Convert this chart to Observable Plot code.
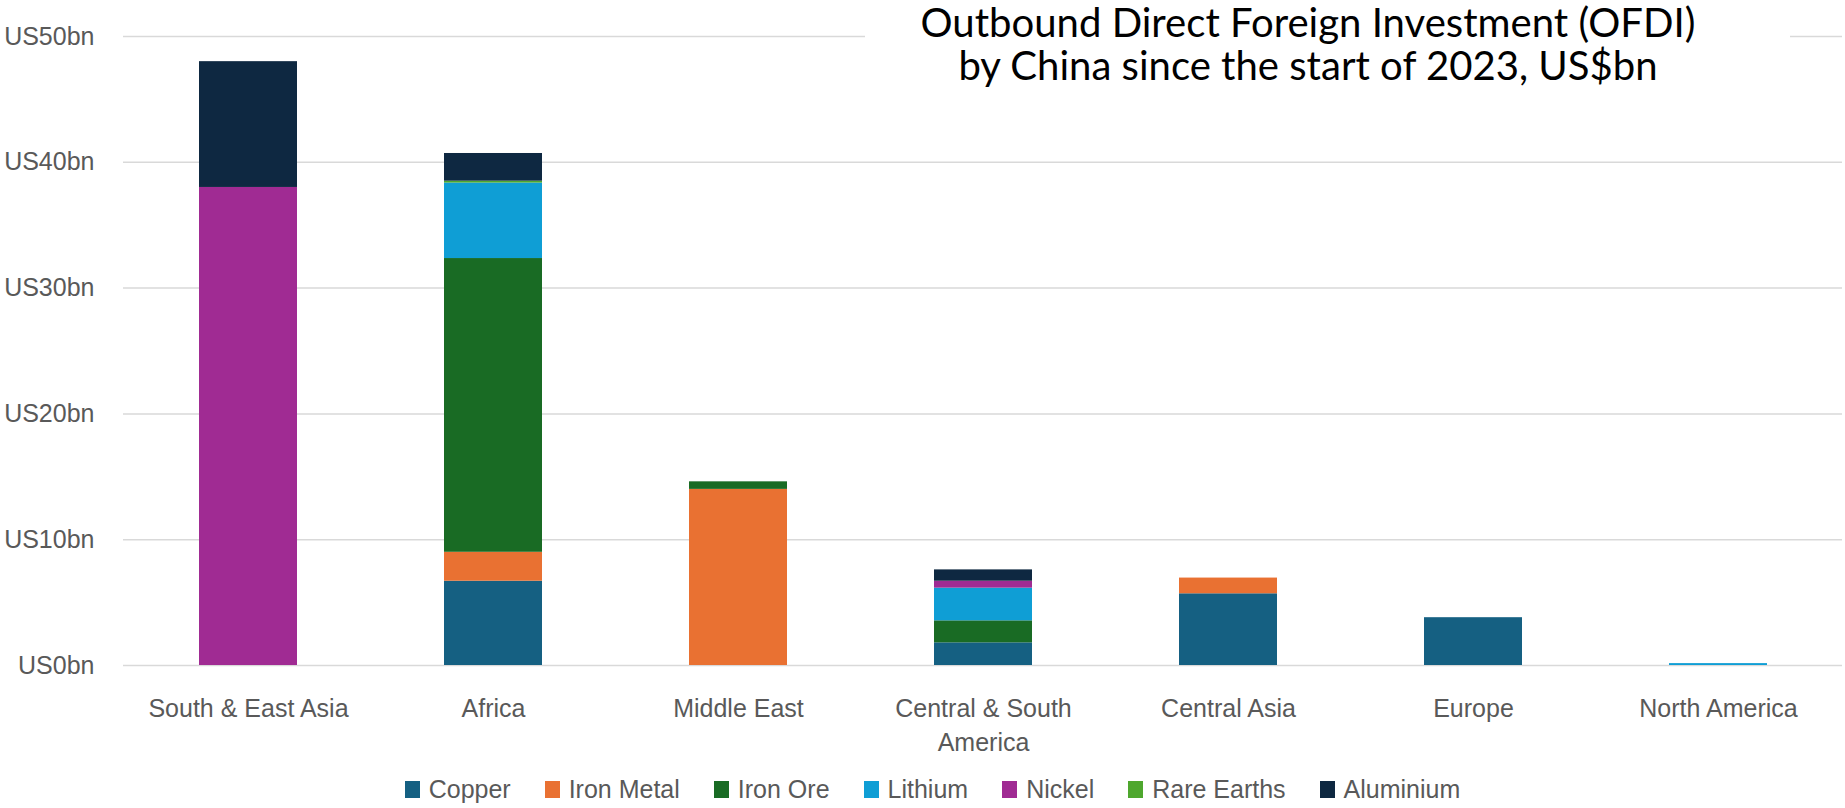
<!DOCTYPE html>
<html>
<head>
<meta charset="utf-8">
<script src="https://cdn.jsdelivr.net/npm/d3@7"></script>
<script src="https://cdn.jsdelivr.net/npm/@observablehq/plot@0.6"></script>
<style>
  html, body { margin: 0; padding: 0; background: #fff; }
  #chart { width: 1845px; }
  .legend {
    height: 38px; width: 1845px; display: flex; justify-content: center; align-items: center;
    font-family: "Liberation Sans", Arial, sans-serif; font-size: 25px; color: #595959;
    padding-left: 20px; box-sizing: border-box;
  }
  .legend .item { display: flex; align-items: center; margin: 0 17px; }
  .legend .sw { width: 15px; height: 17px; margin-right: 9px; }
</style>
</head>
<body>
<div id="chart"></div>
<script>
// Regions (x categories) and their axis labels
const regions = ["South & East Asia", "Africa", "Middle East", "Central & South America", "Central Asia", "Europe", "North America"];
const regionLabels = ["South & East Asia", "Africa", "Middle East", "Central & South\nAmerica", "Central Asia", "Europe", "North America"];

// Minerals (stack series) and their colours
const minerals = ["Copper", "Iron Metal", "Iron Ore", "Lithium", "Nickel", "Rare Earths", "Aluminium"];
const mineralColors = ["#156082", "#E97132", "#196B24", "#0F9ED5", "#A02B93", "#4EA72E", "#0E2841"];

// OFDI by mineral, US$bn, one value per region
const copper     = [0,    6.7,   0,    1.8,  5.7,  3.8, 0];
const ironMetal  = [0,    2.3,  14.0,  0,    1.25, 0,   0];
const ironOre    = [0,   23.35,  0.6,  1.75, 0,    0,   0];
const lithium    = [0,    6.0,   0,    2.6,  0,    0,   0.15];
const nickel     = [38.0, 0,     0,    0.55, 0,    0,   0];
const rareEarths = [0,    0.15,  0,    0,    0,    0,   0];
const aluminium  = [10.0, 2.2,   0,    0.9,  0,    0,   0];

const yTicks = [0, 10, 20, 30, 40, 50];

const titleLines = ["Outbound Direct Foreign Investment (OFDI)", "by China since the start of 2023, US$bn"];

// Long-format table for the stacked bars
const series = [copper, ironMetal, ironOre, lithium, nickel, rareEarths, aluminium];
const rows = minerals.flatMap((m, i) =>
  regions.map((r, j) => ({region: r, mineral: m, value: series[i][j]})).filter(d => d.value > 0)
);

const labelOf = new Map(regions.map((r, i) => [r, regionLabels[i]]));

const chart = Plot.plot({
  width: 1845,
  height: 770,
  marginTop: 36,
  marginBottom: 105,
  marginLeft: 123,
  marginRight: 3,
  style: {fontFamily: "Liberation Sans, Arial, sans-serif", fontSize: "25px", color: "#595959", background: "#fff"},
  x: {domain: regions, paddingInner: 0.6, paddingOuter: 0.3, label: null},
  y: {domain: [0, 50], label: null},
  color: {domain: minerals, range: mineralColors},
  marks: [
    Plot.ruleY(yTicks, {stroke: "#d9d9d9", strokeWidth: 1.5}),
    Plot.barY(rows, {x: "region", y: "value", fill: "mineral"}),
    Plot.axisY({ticks: yTicks, tickSize: 0, tickPadding: 29, tickFormat: d => `US${d}bn`, fontSize: 25, fill: "#595959"}),
    Plot.axisX({tickSize: 0, tickPadding: 27, tickFormat: d => labelOf.get(d), fontSize: 25, lineHeight: 1.36, fill: "#595959"})
  ]
});

// Title sits inside the plot area on a white panel
const svg = d3.select(chart);
svg.append("rect").attr("x", 865).attr("y", 0).attr("width", 925).attr("height", 90).attr("fill", "#fff");
const titles = svg.append("g")
  .attr("text-anchor", "middle")
  .attr("font-family", "Lato, 'Open Sans', sans-serif")
  .attr("font-size", 34)
  .attr("fill", "#000");
titles.selectAll("text").data(titleLines).join("text")
  .attr("x", 1308).attr("y", (d, i) => 37 + i * 43).text(d => d);

document.getElementById("chart").appendChild(chart);

// Fit title width to the panel
const w = titles.select("text").node().getComputedTextLength();
if (w > 0) titles.attr("font-size", 34 * 775 / w);

// Legend
const legend = d3.select("body").append("div").attr("class", "legend");
const items = legend.selectAll(".item").data(minerals).join("div").attr("class", "item");
items.append("div").attr("class", "sw").style("background", (d, i) => mineralColors[i]);
items.append("span").text(d => d);
</script>
</body>
</html>
